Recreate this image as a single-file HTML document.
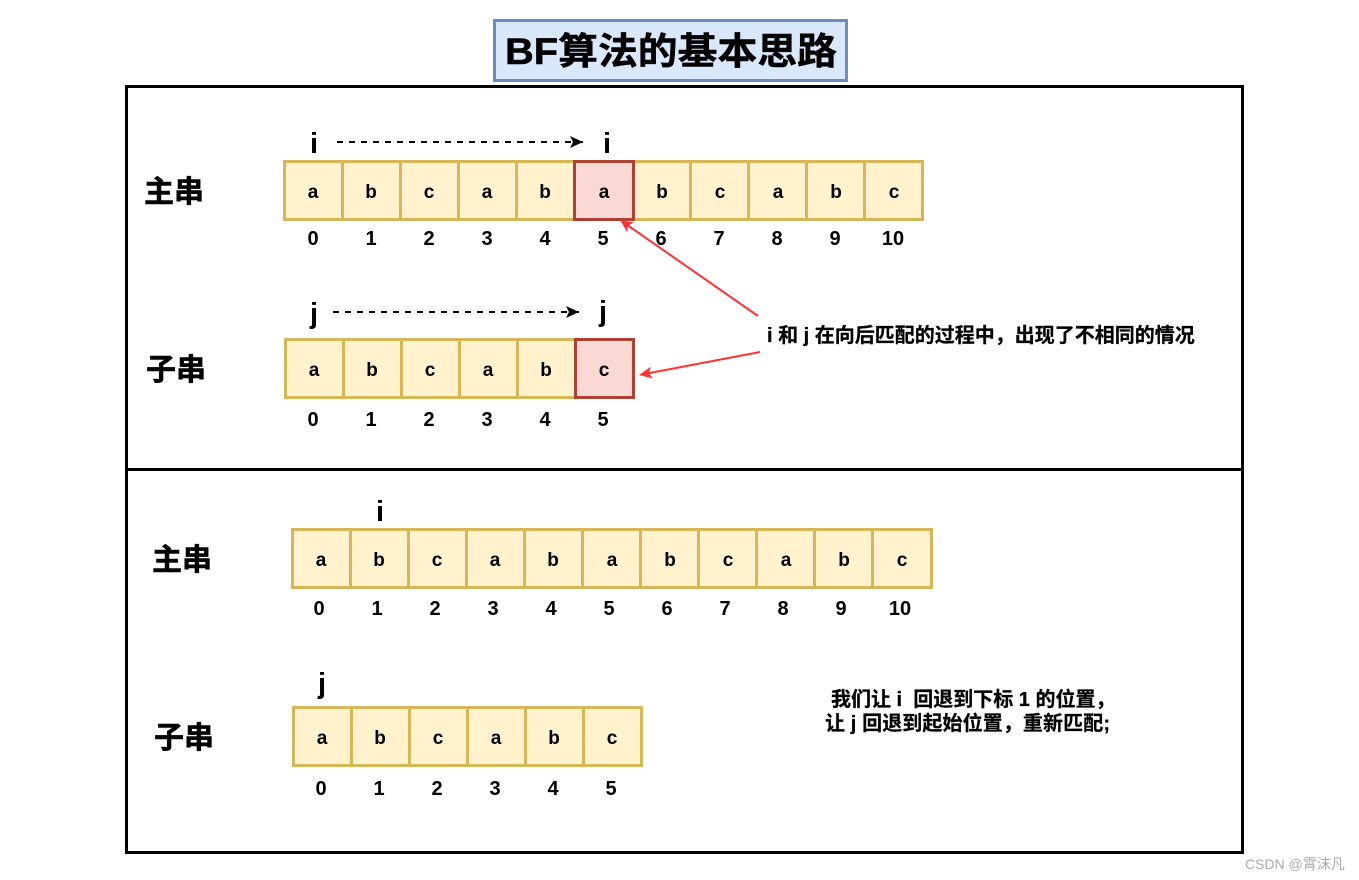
<!DOCTYPE html>
<html><head><meta charset="utf-8"><style>
html,body{margin:0;padding:0;background:#fff;width:1359px;height:880px;overflow:hidden}
svg{display:block}
text{font-family:"Liberation Sans","Noto Sans CJK SC",sans-serif;font-weight:bold;fill:#000}
.c{font-size:19px;text-anchor:middle}
.n{font-size:20px;text-anchor:middle}
.v{font-size:29px;text-anchor:middle}
.l{font-size:30px;stroke:#000;stroke-width:.5}
.a{font-size:20px;stroke:#000;stroke-width:.25}
.y{fill:#fff2cc;stroke:#d6b656;stroke-width:3}
.r{fill:#fad9d5;stroke:#ae4132;stroke-width:3}
</style></head><body>
<svg width="1359" height="880" viewBox="0 0 1359 880" xmlns="http://www.w3.org/2000/svg">
<defs>
<marker id="k" markerWidth="14" markerHeight="12" refX="13" refY="6" orient="auto" markerUnits="userSpaceOnUse"><path d="M0 0L13 6L0 12L3 6Z" fill="#000"/></marker>
</defs>
<rect x="494.5" y="20.5" width="352" height="60" fill="#dae8fc" stroke="#6c8ebf" stroke-width="3"/>
<text x="505" y="64" style="font-size:37px;stroke:#000;stroke-width:.5" textLength="332" lengthAdjust="spacingAndGlyphs">BF算法的基本思路</text>
<rect x="126.5" y="86.5" width="1116" height="766" fill="#fff" stroke="#000" stroke-width="3"/>
<line x1="126" y1="469.5" x2="1243" y2="469.5" stroke="#000" stroke-width="3"/>

<text class="l" x="144" y="202">主串</text>
<text class="v" x="314" y="153">i</text><text class="v" x="607" y="153">i</text>
<line x1="337" y1="142" x2="583" y2="142" stroke="#000" stroke-width="2" stroke-dasharray="6 6" marker-end="url(#k)"/>
<g>
<rect class="y" x="284.5" y="161.5" width="58" height="58"/><rect class="y" x="342.5" y="161.5" width="58" height="58"/><rect class="y" x="400.5" y="161.5" width="58" height="58"/><rect class="y" x="458.5" y="161.5" width="58" height="58"/><rect class="y" x="516.5" y="161.5" width="58" height="58"/><rect class="y" x="632.5" y="161.5" width="58" height="58"/><rect class="y" x="690.5" y="161.5" width="58" height="58"/><rect class="y" x="748.5" y="161.5" width="58" height="58"/><rect class="y" x="806.5" y="161.5" width="58" height="58"/><rect class="y" x="864.5" y="161.5" width="58" height="58"/>
<rect class="r" x="574.5" y="161.5" width="59" height="58"/>
</g>
<text class="c" x="313" y="198">a</text><text class="c" x="371" y="198">b</text><text class="c" x="429" y="198">c</text><text class="c" x="487" y="198">a</text><text class="c" x="545" y="198">b</text><text class="c" x="604" y="198">a</text><text class="c" x="662" y="198">b</text><text class="c" x="720" y="198">c</text><text class="c" x="778" y="198">a</text><text class="c" x="836" y="198">b</text><text class="c" x="894" y="198">c</text>
<text class="n" x="313" y="245">0</text><text class="n" x="371" y="245">1</text><text class="n" x="429" y="245">2</text><text class="n" x="487" y="245">3</text><text class="n" x="545" y="245">4</text><text class="n" x="603" y="245">5</text><text class="n" x="661" y="245">6</text><text class="n" x="719" y="245">7</text><text class="n" x="777" y="245">8</text><text class="n" x="835" y="245">9</text><text class="n" x="893" y="245">10</text>

<text class="l" x="146" y="380">子串</text>
<text class="v" x="314" y="323">j</text><text class="v" x="603" y="321">j</text>
<line x1="333" y1="312" x2="579" y2="312" stroke="#000" stroke-width="2" stroke-dasharray="6 6" marker-end="url(#k)"/>
<rect class="y" x="285.5" y="339.5" width="58" height="58"/><rect class="y" x="343.5" y="339.5" width="58" height="58"/><rect class="y" x="401.5" y="339.5" width="58" height="58"/><rect class="y" x="459.5" y="339.5" width="58" height="58"/><rect class="y" x="517.5" y="339.5" width="58" height="58"/>
<rect class="r" x="575.5" y="339.5" width="58" height="58"/>
<text class="c" x="314" y="376">a</text><text class="c" x="372" y="376">b</text><text class="c" x="430" y="376">c</text><text class="c" x="488" y="376">a</text><text class="c" x="546" y="376">b</text><text class="c" x="604" y="376">c</text>
<text class="n" x="313" y="426">0</text><text class="n" x="371" y="426">1</text><text class="n" x="429" y="426">2</text><text class="n" x="487" y="426">3</text><text class="n" x="545" y="426">4</text><text class="n" x="603" y="426">5</text>

<line x1="758" y1="316" x2="628" y2="225.5" stroke="#ff3333" stroke-width="2"/>
<path d="M620 220L634.1 222.5L628 225.5L627.3 232.3Z" fill="#ff3333"/>
<line x1="760" y1="352" x2="649" y2="373.1" stroke="#ff3333" stroke-width="2"/>
<path d="M639 375L650.7 366.7L649 373.1L652.9 378.5Z" fill="#ff3333"/>
<text class="a" x="767" y="342">i 和 j 在向后匹配的过程中，出现了不相同的情况</text>

<text class="l" x="152" y="570">主串</text>
<text class="v" x="380" y="521">i</text>
<rect class="y" x="292.5" y="529.5" width="58" height="58"/><rect class="y" x="350.5" y="529.5" width="58" height="58"/><rect class="y" x="408.5" y="529.5" width="58" height="58"/><rect class="y" x="466.5" y="529.5" width="58" height="58"/><rect class="y" x="524.5" y="529.5" width="58" height="58"/><rect class="y" x="582.5" y="529.5" width="58" height="58"/><rect class="y" x="640.5" y="529.5" width="58" height="58"/><rect class="y" x="698.5" y="529.5" width="58" height="58"/><rect class="y" x="756.5" y="529.5" width="58" height="58"/><rect class="y" x="814.5" y="529.5" width="58" height="58"/><rect class="y" x="872.5" y="529.5" width="59" height="58"/>
<text class="c" x="321" y="566">a</text><text class="c" x="379" y="566">b</text><text class="c" x="437" y="566">c</text><text class="c" x="495" y="566">a</text><text class="c" x="553" y="566">b</text><text class="c" x="612" y="566">a</text><text class="c" x="670" y="566">b</text><text class="c" x="728" y="566">c</text><text class="c" x="786" y="566">a</text><text class="c" x="844" y="566">b</text><text class="c" x="902" y="566">c</text>
<text class="n" x="319" y="615">0</text><text class="n" x="377" y="615">1</text><text class="n" x="435" y="615">2</text><text class="n" x="493" y="615">3</text><text class="n" x="551" y="615">4</text><text class="n" x="609" y="615">5</text><text class="n" x="667" y="615">6</text><text class="n" x="725" y="615">7</text><text class="n" x="783" y="615">8</text><text class="n" x="841" y="615">9</text><text class="n" x="900" y="615">10</text>

<text class="l" x="154" y="748">子串</text>
<text class="v" x="322" y="693">j</text>
<rect class="y" x="293.5" y="707.5" width="58" height="58"/><rect class="y" x="351.5" y="707.5" width="58" height="58"/><rect class="y" x="409.5" y="707.5" width="58" height="58"/><rect class="y" x="467.5" y="707.5" width="58" height="58"/><rect class="y" x="525.5" y="707.5" width="58" height="58"/><rect class="y" x="583.5" y="707.5" width="58" height="58"/>
<text class="c" x="322" y="744">a</text><text class="c" x="380" y="744">b</text><text class="c" x="438" y="744">c</text><text class="c" x="496" y="744">a</text><text class="c" x="554" y="744">b</text><text class="c" x="612" y="744">c</text>
<text class="n" x="321" y="795">0</text><text class="n" x="379" y="795">1</text><text class="n" x="437" y="795">2</text><text class="n" x="495" y="795">3</text><text class="n" x="553" y="795">4</text><text class="n" x="611" y="795">5</text>

<text class="a" x="831" y="706" xml:space="preserve">我们让 i  回退到下标 1 的位置，</text>
<text class="a" x="825" y="730" textLength="285">让 j 回退到起始位置，重新匹配;</text>

<text x="1245" y="869" style="font-size:14px;font-weight:normal;fill:#aaaaaa">CSDN @霄沫凡</text>
</svg>
</body></html>
